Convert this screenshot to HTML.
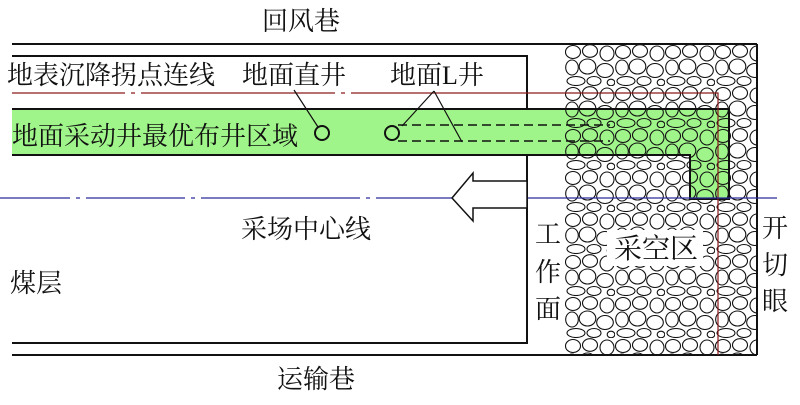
<!DOCTYPE html>
<html><head><meta charset="utf-8"><style>
html,body{margin:0;padding:0;background:#fff}
svg text{font-family:"Liberation Serif","Noto Serif CJK SC","Noto Sans CJK SC",serif;fill:#111}
</style></head><body>
<svg width="800" height="400" viewBox="0 0 800 400" xmlns="http://www.w3.org/2000/svg">
<defs>
<pattern id="rock" x="565" y="44" width="50" height="42" patternUnits="userSpaceOnUse">
<g fill="none" stroke="#111" stroke-width="1.1">
<ellipse cx="8" cy="8" rx="7.5" ry="6.5"/>
<ellipse cx="25" cy="7" rx="7.5" ry="6.3"/>
<ellipse cx="42" cy="9.5" rx="7" ry="7.5"/>
<ellipse cx="7" cy="23.5" rx="6.3" ry="7.5"/>
<ellipse cx="22.5" cy="22.5" rx="8.3" ry="7.5"/>
<ellipse cx="40" cy="26.5" rx="8.3" ry="7"/>
<ellipse cx="11" cy="37" rx="9" ry="4.5"/>
<ellipse cx="29" cy="37" rx="7" ry="4.5"/>
<ellipse cx="46" cy="38.5" rx="3.8" ry="3.3"/>
</g>
</pattern>
</defs>
<line x1="12" y1="44" x2="757" y2="44" stroke="#111" stroke-width="2"/>
<line x1="12" y1="355" x2="757" y2="355" stroke="#111" stroke-width="2"/>
<polyline points="12,56 527,56 527,343 12,343" fill="none" stroke="#111" stroke-width="2"/>
<rect x="12" y="109" width="717" height="46" fill="#a0f58a"/>
<rect x="690" y="155" width="39" height="44" fill="#a0f58a"/>
<rect x="565" y="44" width="192" height="311" fill="url(#rock)"/>
<line x1="757" y1="44" x2="757" y2="355" stroke="#111" stroke-width="2"/>
<polyline points="12,109 729,109 729,199 690,199 690,155 12,155" fill="none" stroke="#111" stroke-width="2"/>
<rect x="607" y="230" width="96" height="36" fill="#fff"/>
<path d="M12 93H125M131 93H135M141 93H335M341 93H345M351 93H718V355" fill="none" stroke="#8b1a1a" stroke-width="1.2"/>
<path d="M0 198H70M76 198H80M86 198H185M191 198H195M201 198H360M366 198H370M376 198H777" fill="none" stroke="#2b2b9a" stroke-width="1.2"/>
<polygon points="527,181 473,181 473,173 452,198 473,221 473,208 527,208" fill="#fff" stroke="#111" stroke-width="1.5"/>
<circle cx="322" cy="133" r="7" fill="none" stroke="#111" stroke-width="2"/>
<circle cx="392" cy="133" r="7" fill="none" stroke="#111" stroke-width="2"/>
<path d="M398 125H610M398 141H610" stroke="#111" stroke-width="1.6" stroke-dasharray="9,5" fill="none"/>
<line x1="294" y1="90" x2="318" y2="127" stroke="#111" stroke-width="1.2"/>
<line x1="434" y1="91" x2="402" y2="126" stroke="#111" stroke-width="1.2"/>
<line x1="434" y1="91" x2="462" y2="142" stroke="#111" stroke-width="1.2"/>
<text x="262" y="30" font-size="26">回风巷</text>
<text x="7" y="84" font-size="26">地表沉降拐点连线</text>
<text x="242" y="84" font-size="26">地面直井</text>
<text x="390" y="84" font-size="26">地面L井</text>
<text x="12" y="145" font-size="26">地面采动井最优布井区域</text>
<text x="241" y="238" font-size="26">采场中心线</text>
<text x="10" y="292" font-size="26">煤层</text>
<text x="277" y="388" font-size="26">运输巷</text>
<text x="535" y="243" font-size="26">工</text>
<text x="535" y="281" font-size="26">作</text>
<text x="535" y="318" font-size="26">面</text>
<text x="614" y="258" font-size="28">采空区</text>
<text x="762" y="237" font-size="26">开</text>
<text x="762" y="274" font-size="26">切</text>
<text x="762" y="310" font-size="26">眼</text>
</svg>
</body></html>
